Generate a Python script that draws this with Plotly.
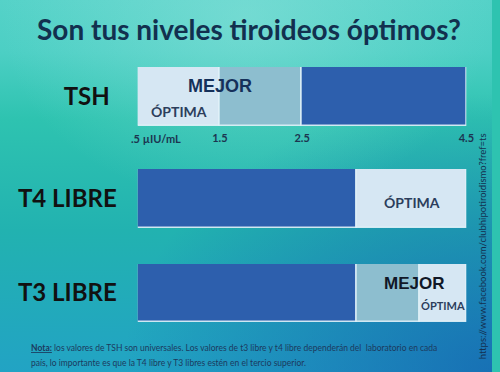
import base64
import plotly.graph_objects as go

# ---------------- data ----------------
rows = ["TSH", "T4 LIBRE", "T3 LIBRE"]
tsh_bounds = [0.5, 1.5, 2.5, 4.5]          # µIU/mL
tsh_tick_vals = [0.5, 1.5, 2.5, 4.5]
tsh_tick_text = [".5 µIU/mL", "1.5", "2.5", "4.5"]
t4_parts = [2 / 3, 1 / 3]                  # fraction of reference range
t3_parts = [2 / 3, 0.19, 0.143]
title = "Son tus niveles tiroideos óptimos?"
note1 = "<b><u>Nota:</u></b> los valores de TSH son universales. Los valores de t3 libre y t4 libre dependerán del  laboratorio en cada"
note2 = "país, lo importante es que la T4 libre y T3 libres estén en el tercio superior."
url = "https://www.facebook.com/clubhipotiroidismo?fref=ts"

DARK = "#2d5fad"
MED = "#8dbecf"
LIGHT = "#d6e7f3"
EDGE = "rgba(225,242,248,0.9)"
NAVY = "#12304f"

# ---------------- background gradient ----------------
svg = """<svg xmlns='http://www.w3.org/2000/svg' width='500' height='372' viewBox='0 0 500 372' preserveAspectRatio='none'>
<defs>
<linearGradient id='g' x1='0' y1='0' x2='0' y2='1'>
<stop offset='0' stop-color='#55d2c8'/>
<stop offset='0.14' stop-color='#4ccfc4'/>
<stop offset='0.32' stop-color='#2ec3b0'/>
<stop offset='0.62' stop-color='#22b2b0'/>
<stop offset='1' stop-color='#22a3c4'/>
</linearGradient>
<radialGradient id='r' cx='1' cy='1' r='0.75'>
<stop offset='0' stop-color='#1460b0' stop-opacity='0.75'/>
<stop offset='1' stop-color='#1460b0' stop-opacity='0'/>
</radialGradient>
<radialGradient id='t' cx='0.5' cy='0.05' r='0.5'>
<stop offset='0' stop-color='#9be6e0' stop-opacity='0.45'/>
<stop offset='1' stop-color='#9be6e0' stop-opacity='0'/>
</radialGradient>
</defs>
<rect width='500' height='372' fill='url(#g)'/>
<rect width='500' height='372' fill='url(#r)'/>
<rect width='500' height='372' fill='url(#t)'/>
</svg>"""
bg_uri = "data:image/svg+xml;base64," + base64.b64encode(svg.encode()).decode()

fig = go.Figure()

# TSH segments
tsh_colors = [LIGHT, MED, DARK]
for i in range(len(tsh_bounds) - 1):
    fig.add_trace(go.Bar(
        y=[rows[0]], x=[tsh_bounds[i + 1] - tsh_bounds[i]], base=[tsh_bounds[i]],
        orientation="h", width=1, marker=dict(color=tsh_colors[i], line=dict(color=EDGE, width=1.5)),
        xaxis="x", yaxis="y", showlegend=False, hoverinfo="skip"))

# T4 segments
t4_colors = [DARK, LIGHT]
b = 0
for i, v in enumerate(t4_parts):
    fig.add_trace(go.Bar(
        y=[rows[1]], x=[v], base=[b], orientation="h", width=1,
        marker=dict(color=t4_colors[i], line=dict(color=EDGE, width=1.5)),
        xaxis="x2", yaxis="y2", showlegend=False, hoverinfo="skip"))
    b += v

# T3 segments
t3_colors = [DARK, MED, LIGHT]
b = 0
t3_cum = []
for i, v in enumerate(t3_parts):
    fig.add_trace(go.Bar(
        y=[rows[2]], x=[v], base=[b], orientation="h", width=1,
        marker=dict(color=t3_colors[i], line=dict(color=EDGE, width=1.5)),
        xaxis="x3", yaxis="y3", showlegend=False, hoverinfo="skip"))
    b += v
    t3_cum.append(b)

xdom = [140 / 500, 474 / 500]
hidden_x = dict(domain=xdom, showgrid=False, zeroline=False, showticklabels=False, showline=False, fixedrange=True)
row_font = dict(family="Lato", size=24, color="#111111", weight="bold")

def ydict(dom, standoff):
    return dict(domain=dom, range=[-0.5, 0.5], type="category", showgrid=False, zeroline=False,
                showline=False, ticks="", tickfont=row_font, ticklabelstandoff=standoff, fixedrange=True)

fig.update_layout(
    width=500, height=372, margin=dict(l=0, r=0, t=0, b=0),
    paper_bgcolor="#2ec3b0", plot_bgcolor="rgba(0,0,0,0)",
    barmode="overlay", bargap=0,
    xaxis=dict(domain=xdom, range=[tsh_bounds[0], tsh_bounds[-1]], anchor="y", showgrid=False,
               zeroline=False, showline=False, ticks="",
               tickvals=tsh_tick_vals[1:], ticktext=tsh_tick_text[1:],
               tickfont=dict(family="Lato", size=11, color="#1c3550", weight="bold"),
               ticklabelstandoff=4, fixedrange=True),
    xaxis2=dict(hidden_x, range=[0, 1], anchor="y2"),
    xaxis3=dict(hidden_x, range=[0, 1], anchor="y3"),
    yaxis=ydict([(372 - 126) / 372, (372 - 67) / 372], 27),
    yaxis2=ydict([(372 - 228) / 372, (372 - 169) / 372], 20),
    yaxis3=ydict([(372 - 322) / 372, (372 - 264) / 372], 20),
    images=[dict(source=bg_uri, xref="paper", yref="paper", x=0, y=1, sizex=1, sizey=1,
                 sizing="stretch", xanchor="left", yanchor="top", layer="below")],
)

C = dict(xanchor="center", yanchor="middle", showarrow=False)
ann = []
# title
ann.append(dict(C, text=title, x=253 / 500, y=1 - 29 / 372, xref="paper", yref="paper",
                font=dict(family="Lato", size=28, color=NAVY, weight="bold")))
# first tick label (left aligned under bar start)
ann.append(dict(C, text=tsh_tick_text[0], x=tsh_tick_vals[0], xref="x", y=1 - 138 / 372, yref="paper",
                xshift=18, font=dict(family="Lato", size=11, color="#1c3550", weight="bold")))
# TSH inside labels
ann.append(dict(C, text="MEJOR", x=tsh_bounds[1], xref="x", y=0.18, yref="y",
                font=dict(family="Liberation Sans", size=18, color="#15305a", weight="bold")))
ann.append(dict(C, text="ÓPTIMA", x=(tsh_bounds[0] + tsh_bounds[1]) / 2, xref="x", y=-0.26, yref="y",
                font=dict(family="Lato", size=14, color="#2c3e5c", weight="bold")))
# T4 inside label
ann.append(dict(C, text="ÓPTIMA", x=t4_parts[0] + t4_parts[1] / 2, xref="x2", y=-0.06, yref="y2",
                font=dict(family="Lato", size=14, color="#2c3e5c", weight="bold")))
# T3 inside labels
ann.append(dict(C, text="MEJOR", x=t3_cum[1], xref="x3", xshift=-5, y=0.17, yref="y3",
                font=dict(family="Liberation Sans", size=17, color="#111827", weight="bold")))
ann.append(dict(C, text="ÓPTIMA", x=t3_cum[1] + t3_parts[2] / 2, xref="x3", y=-0.22, yref="y3",
                font=dict(family="Lato", size=11, color="#2c3e5c", weight="bold")))
# notes
ann.append(dict(C, text=note1, x=29 / 500, y=1 - 348 / 372, xref="paper", yref="paper", xanchor="left",
                font=dict(family="Lato", size=8.5, color="#1c3a5e")))
ann.append(dict(C, text=note2, x=29 / 500, y=1 - 363 / 372, xref="paper", yref="paper", xanchor="left",
                font=dict(family="Lato", size=8.5, color="#1c3a5e")))
# vertical url
ann.append(dict(C, text=url, x=490 / 500, y=1 - 246 / 372, xref="paper", yref="paper", textangle=-90,
                font=dict(family="Lato", size=9.5, color="#14304f")))
fig.update_layout(annotations=ann)

post = """
document.documentElement.style.margin='0';
document.documentElement.style.overflow='hidden';
document.body.style.margin='0';
document.body.style.overflow='hidden';
var gd=document.getElementById('{plot_id}');
[gd, gd.parentElement].forEach(function(el){
  el.style.overflow='hidden'; el.style.width='500px'; el.style.height='372px';
});
"""
fig.write_html("out.html", config={"displayModeBar": False}, post_script=post)
